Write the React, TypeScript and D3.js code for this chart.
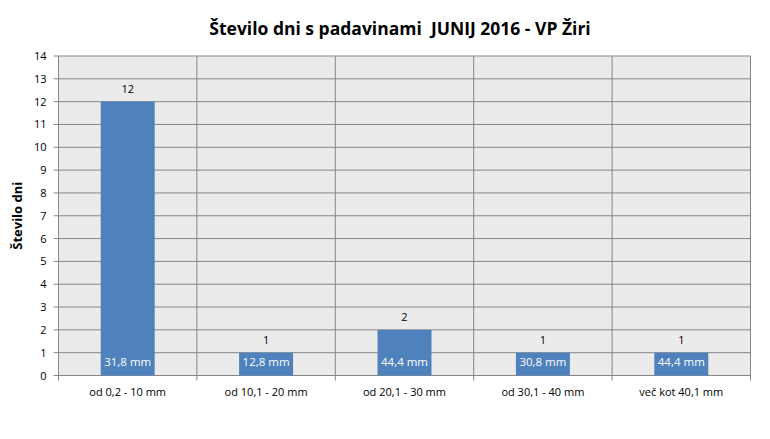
import React from "react";
import * as d3 from "d3";

const categories = ["od 0,2 - 10 mm", "od 10,1 - 20 mm", "od 20,1 - 30 mm", "od 30,1 - 40 mm", "več kot 40,1 mm"];
const days = [12, 1, 2, 1, 1];
const amounts = ["31,8 mm", "12,8 mm", "44,4 mm", "30,8 mm", "44,4 mm"];
const yTicks = [0, 1, 2, 3, 4, 5, 6, 7, 8, 9, 10, 11, 12, 13, 14];

const W = 770, H = 439;
const m = { left: 58.5, right: 750.5, top: 56, bottom: 375.5 };
const font = "'Open Sans', 'Liberation Sans', sans-serif";

export default function App() {
  const x = d3.scaleBand<string>().domain(categories).range([m.left, m.right]).paddingInner(0).paddingOuter(0);
  const y = d3.scaleLinear().domain([0, 14]).range([m.bottom, m.top]);
  const bw = x.bandwidth() * 0.39;
  const grid = "#878787";
  return (
    <svg width={W} height={H} style={{ position: "absolute", left: 0, top: 0 }}>
      <rect x={0} y={0} width={W} height={H} fill="#fff" />
      <text x={400} y={35} textAnchor="middle" fontFamily={font} fontWeight="bold" fontSize={17.5} fill="#000" style={{ whiteSpace: "pre" }}>
        {"Število dni s padavinami  JUNIJ 2016 - VP Žiri"}
      </text>
      <rect x={m.left} y={m.top} width={m.right - m.left} height={m.bottom - m.top} fill="#ebebeb" />
      {yTicks.map((t) => (
        <g key={t}>
          <line x1={m.left - 5} x2={m.right} y1={y(t)} y2={y(t)} stroke={grid} strokeWidth={1} />
          <text x={m.left - 12} y={y(t) + 4} textAnchor="end" fontFamily={font} fontSize={11} fill="#000">{t}</text>
        </g>
      ))}
      {categories.map((c) => (
        <line key={c} x1={x(c)!} x2={x(c)!} y1={m.top} y2={m.bottom + 5} stroke={grid} strokeWidth={1} />
      ))}
      <line x1={m.right} x2={m.right} y1={m.top} y2={m.bottom + 5} stroke={grid} strokeWidth={1} />
      {categories.map((c, i) => {
        const cx = x(c)! + x.bandwidth() / 2;
        return (
          <g key={c}>
            <rect x={cx - bw / 2} y={y(days[i])} width={bw} height={y(0) - y(days[i])} fill="#4f81bd" />
            <text x={cx} y={y(days[i]) - 9} textAnchor="middle" fontFamily={font} fontSize={11} fill="#000">{days[i]}</text>
            <text x={cx} y={y(0) - 10} textAnchor="middle" fontFamily={font} fontSize={11.5} fill="#fff">{amounts[i]}</text>
            <text x={cx} y={396} textAnchor="middle" fontFamily={font} fontSize={11} fill="#000">{c}</text>
          </g>
        );
      })}
      <text transform={`translate(22,${(m.top + m.bottom) / 2}) rotate(-90)`} textAnchor="middle" fontFamily={font} fontWeight="bold" fontSize={13} fill="#000">
        Število dni
      </text>
    </svg>
  );
}
